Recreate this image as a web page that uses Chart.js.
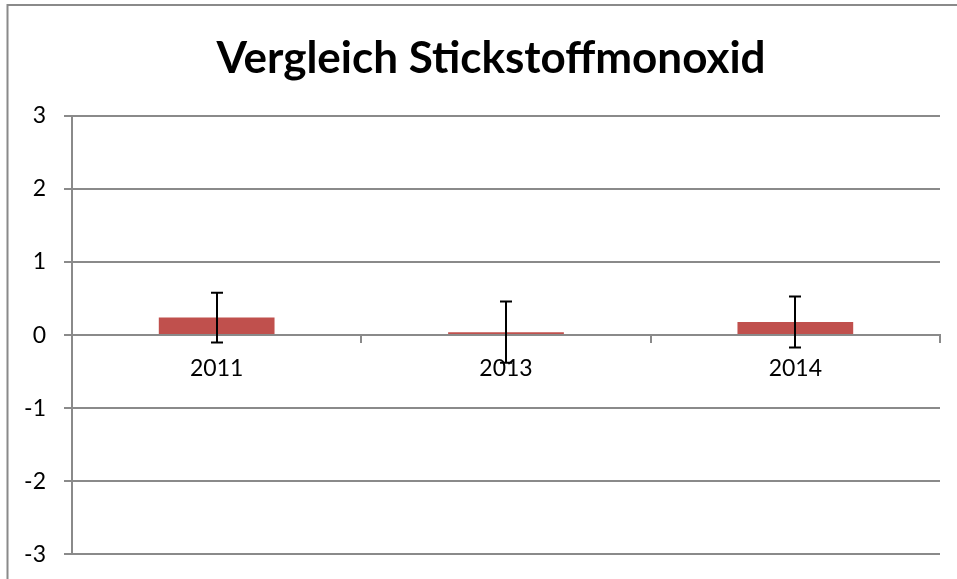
<!DOCTYPE html>
<html>
<head>
<meta charset="utf-8">
<script src="https://cdn.jsdelivr.net/npm/chart.js@4/dist/chart.umd.min.js"></script>
<style>
  html, body { margin: 0; padding: 0; background: #fff; overflow: hidden; }
  #wrap { position: relative; width: 957px; height: 579px; overflow: hidden; }
</style>
</head>
<body>
<div id="wrap"><canvas id="c" width="957" height="586"></canvas></div>
<script>
// Jahresvergleich Stickstoffmonoxid mit Fehlerbalken
const titleText = 'Vergleich Stickstoffmonoxid';
const categories = ['2011', '2013', '2014'];
const values = [0.24, 0.04, 0.18];
const errors = [0.34, 0.42, 0.35];
const yTicks = [-3, -2, -1, 0, 1, 2, 3];

const GRID = '#8a8a8a';
const FONT = 'Lato, "Open Sans", sans-serif';

// Rahmen links/oben und zentrierter Titel
const framePlugin = {
  id: 'frameAndTitle',
  beforeDraw(chart) {
    const ctx = chart.ctx;
    ctx.save();
    ctx.strokeStyle = GRID;
    ctx.lineWidth = 2;
    ctx.beginPath();
    ctx.moveTo(7.5, chart.height);
    ctx.lineTo(7.5, 5);
    ctx.lineTo(chart.width, 5);
    ctx.stroke();
    ctx.restore();
  },
  afterDraw(chart) {
    const ctx = chart.ctx;
    ctx.save();
    ctx.fillStyle = '#000';
    ctx.font = 'bold 44px ' + FONT;
    ctx.textAlign = 'center';
    ctx.textBaseline = 'alphabetic';
    ctx.fillText(titleText, 491, 73);
    ctx.restore();
  }
};

// Fehlerbalken (symmetrisch) über jedem Balken
const errorBarPlugin = {
  id: 'errorBars',
  afterDatasetsDraw(chart) {
    const ctx = chart.ctx;
    const yScale = chart.scales.y;
    const meta = chart.getDatasetMeta(0);
    ctx.save();
    ctx.strokeStyle = '#000';
    ctx.lineWidth = 2;
    meta.data.forEach((bar, i) => {
      const x = Math.round(bar.x);
      const top = yScale.getPixelForValue(values[i] + errors[i]);
      const bot = yScale.getPixelForValue(values[i] - errors[i]);
      const cap = 6;
      ctx.beginPath();
      ctx.moveTo(x, top); ctx.lineTo(x, bot);
      ctx.moveTo(x - cap, top); ctx.lineTo(x + cap, top);
      ctx.moveTo(x - cap, bot); ctx.lineTo(x + cap, bot);
      ctx.stroke();
    });
    ctx.restore();
  }
};

new Chart(document.getElementById('c'), {
  type: 'bar',
  data: {
    labels: categories,
    datasets: [{
      data: values,
      backgroundColor: '#c0504d',
      borderWidth: 0,
      barPercentage: 0.4,
      categoryPercentage: 1.0
    }]
  },
  plugins: [framePlugin, errorBarPlugin],
  options: {
    responsive: false,
    animation: false,
    layout: { autoPadding: false, padding: { left: 0, right: 17, top: 116, bottom: 25 } },
    plugins: {
      legend: { display: false },
      title: { display: false },
      tooltip: { enabled: false }
    },
    scales: {
      x: {
        type: 'category',
        position: { y: 0 },
        offset: true,
        grid: {
          offset: true,
          drawOnChartArea: false,
          drawTicks: true,
          tickLength: 7,
          color: GRID,
          lineWidth: 2
        },
        border: { display: true, color: GRID, width: 2 },
        ticks: {
          color: '#000',
          font: { family: FONT, size: 23 },
          padding: 13,
          maxRotation: 0
        }
      },
      y: {
        min: -3,
        max: 3,
        afterFit(scale) { scale.width = 72; },
        afterBuildTicks(scale) { scale.ticks = yTicks.map(v => ({ value: v })); },
        grid: {
          color: GRID,
          lineWidth: 2,
          tickLength: 8,
          drawTicks: true
        },
        border: { display: true, color: GRID, width: 2 },
        ticks: {
          color: '#000',
          font: { family: FONT, size: 23 },
          padding: 18,
          callback: v => String(v)
        }
      }
    }
  }
});
</script>
</body>
</html>
